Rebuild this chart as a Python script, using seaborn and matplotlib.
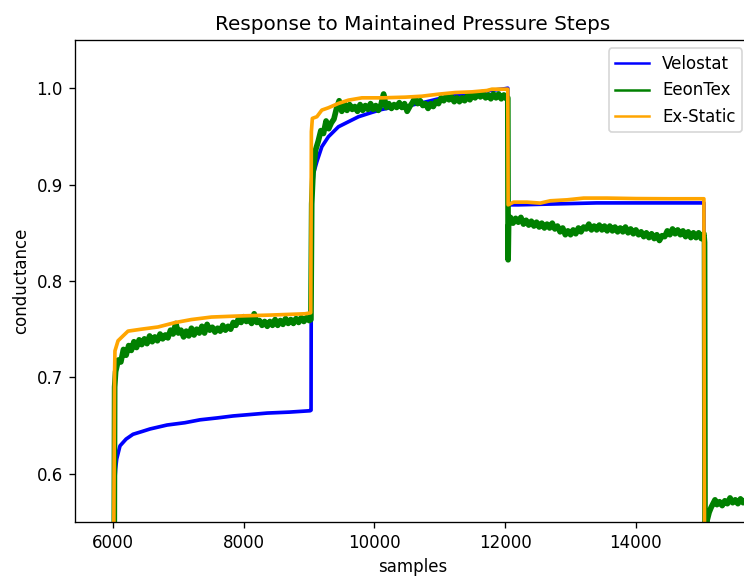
import matplotlib
matplotlib.use("Agg")
import matplotlib.pyplot as plt
import pandas as pd
import seaborn as sns

# Velostat readings (sample index, conductance)
velostat_x = [6010, 6020, 6040, 6057, 6107, 6200, 6306, 6450, 6566, 6827, 7100, 7332,
              7600, 7837, 8100, 8358, 8700, 9016, 9030,
              9035, 9070, 9119, 9195, 9296, 9449, 9602, 9756, 9961, 10114, 10317, 10521,
              10800, 11100, 11400, 11700, 12000, 12040,
              12045, 12200, 12800, 13400, 14000, 14600, 15040, 15050]
velostat_y = [0.500, 0.585, 0.605, 0.6155, 0.629, 0.636, 0.641, 0.644, 0.6465, 0.6506, 0.653, 0.656,
              0.658, 0.660, 0.6615, 0.663, 0.664, 0.6654, 0.666,
              0.880, 0.912, 0.9238, 0.9393, 0.9497, 0.960, 0.9652, 0.9704, 0.9749, 0.978, 0.9807, 0.9817,
              0.986, 0.991, 0.994, 0.997, 0.9995, 1.000,
              0.879, 0.879, 0.880, 0.881, 0.881, 0.881, 0.881, 0.500]

# EeonTex readings, one list per pressure step
eeon_rise1_x = [6018, 6025]
eeon_rise1_y = [0.500, 0.690]
eeon_step1_x = list(range(6040, 9001, 40))
eeon_step1_y = [0.706, 0.718, 0.716, 0.729, 0.723, 0.733, 0.728, 0.737, 0.731, 0.739,
                0.734, 0.740, 0.735, 0.743, 0.737, 0.742, 0.738, 0.745, 0.740, 0.744,
                0.741, 0.749, 0.745, 0.756, 0.746, 0.749, 0.742, 0.748, 0.743, 0.751,
                0.744, 0.750, 0.746, 0.753, 0.746, 0.755, 0.749, 0.752, 0.747, 0.751,
                0.748, 0.754, 0.749, 0.753, 0.750, 0.757, 0.754, 0.761, 0.757, 0.763,
                0.758, 0.761, 0.756, 0.766, 0.757, 0.759, 0.754, 0.758, 0.753, 0.758,
                0.754, 0.760, 0.754, 0.759, 0.755, 0.761, 0.756, 0.760, 0.756, 0.761,
                0.757, 0.762, 0.758, 0.762, 0.759]
eeon_rise2_x = [9028, 9040]
eeon_rise2_y = [0.760, 0.880]
eeon_step2_x = list(range(9060, 12021, 40))
eeon_step2_y = [0.912, 0.936, 0.945, 0.956, 0.953, 0.966, 0.958, 0.964, 0.968, 0.979,
                0.987, 0.976, 0.984, 0.977, 0.983, 0.978, 0.981, 0.976, 0.983, 0.977,
                0.982, 0.978, 0.984, 0.978, 0.982, 0.977, 0.983, 0.994, 0.980, 0.984,
                0.979, 0.983, 0.980, 0.985, 0.980, 0.984, 0.976, 0.981, 0.985, 0.990,
                0.984, 0.987, 0.982, 0.984, 0.979, 0.984, 0.981, 0.986, 0.984, 0.990,
                0.987, 0.992, 0.988, 0.991, 0.986, 0.990, 0.986, 0.990, 0.987, 0.992,
                0.988, 0.993, 0.990, 0.995, 0.991, 0.995, 0.990, 0.993, 0.989, 0.994,
                0.990, 0.994, 0.989, 0.993, 0.989]
eeon_drop3_x = [12040, 12045, 12052]
eeon_drop3_y = [0.990, 0.822, 0.858]
eeon_step3_x = list(range(12080, 15041, 40))
eeon_step3_y = [0.866, 0.860, 0.865, 0.861, 0.866, 0.859, 0.863, 0.858, 0.862, 0.857,
                0.861, 0.856, 0.860, 0.855, 0.859, 0.855, 0.860, 0.854, 0.857, 0.851,
                0.855, 0.848, 0.852, 0.848, 0.853, 0.849, 0.855, 0.851, 0.856, 0.854,
                0.859, 0.853, 0.857, 0.853, 0.858, 0.853, 0.857, 0.852, 0.857, 0.852,
                0.856, 0.851, 0.855, 0.851, 0.856, 0.850, 0.854, 0.849, 0.853, 0.848,
                0.851, 0.846, 0.850, 0.845, 0.849, 0.844, 0.848, 0.842, 0.847, 0.846,
                0.852, 0.848, 0.854, 0.849, 0.853, 0.848, 0.852, 0.846, 0.851, 0.845,
                0.850, 0.845, 0.850, 0.844, 0.849]
eeon_step4_x = [15050, 15058, 15070, 15090, 15120, 15150, 15180, 15210, 15240, 15280, 15320,
                15360, 15400, 15440, 15480, 15520, 15560, 15600, 15640, 15680, 15720, 15760]
eeon_step4_y = [0.840, 0.500, 0.520, 0.552, 0.560, 0.565, 0.569, 0.573, 0.568, 0.571, 0.567,
                0.572, 0.569, 0.575, 0.570, 0.573, 0.569, 0.574, 0.570, 0.573, 0.569, 0.572]

eeontex_x = (eeon_rise1_x + eeon_step1_x + eeon_rise2_x + eeon_step2_x
             + eeon_drop3_x + eeon_step3_x + eeon_step4_x)
eeontex_y = (eeon_rise1_y + eeon_step1_y + eeon_rise2_y + eeon_step2_y
             + eeon_drop3_y + eeon_step3_y + eeon_step4_y)

# Ex-Static readings
exstatic_x = [6010, 6023, 6030, 6077, 6153, 6230, 6433, 6689, 6945, 7199, 7505, 7918, 8430,
              8940, 9025,
              9035, 9050, 9119, 9195, 9296, 9449, 9602, 9808, 10114, 10471, 10726, 10980, 11236,
              11492, 11721, 11798, 12030, 12040,
              12045, 12129, 12334, 12537, 12690, 12946, 13200, 13558, 14000, 14500, 15040, 15050]
exstatic_y = [0.500, 0.700, 0.7275, 0.738, 0.743, 0.748, 0.750, 0.7523, 0.7568, 0.760, 0.7626,
              0.7637, 0.7647, 0.766, 0.767,
              0.955, 0.9687, 0.9704, 0.9773, 0.9797, 0.9842, 0.9876, 0.990, 0.990, 0.9907, 0.9917,
              0.9938, 0.9955, 0.9962, 0.9976, 0.999, 0.999, 0.999,
              0.879, 0.8818, 0.8818, 0.8808, 0.8832, 0.8842, 0.886, 0.886, 0.8855, 0.8853, 0.8853,
              0.500]

series = [
    ("Velostat", velostat_x, velostat_y, "blue", 2.2),
    ("EeonTex", eeontex_x, eeontex_y, "green", 3.4),
    ("Ex-Static", exstatic_x, exstatic_y, "orange", 2.2),
]

fig = plt.figure(figsize=(6.2, 577 / 120), dpi=120)
ax = fig.add_axes([74.5 / 744, 55 / 577, 676 / 744, 482 / 577])

for name, xs, ys, color, lw in series:
    df = pd.DataFrame({"samples": xs, "conductance": ys})
    sns.lineplot(data=df, x="samples", y="conductance", ax=ax, color=color,
                 linewidth=lw, label=name, sort=False, estimator=None)

ax.set_xlim(5411, 15753)
ax.set_ylim(0.55, 1.05)
ax.set_title("Response to Maintained Pressure Steps")
ax.set_xlabel("samples")
ax.set_ylabel("conductance")

leg = ax.legend(loc="upper right")
for line in leg.get_lines():
    line.set_linewidth(1.5)

fig.savefig("out.png", dpi=120)
